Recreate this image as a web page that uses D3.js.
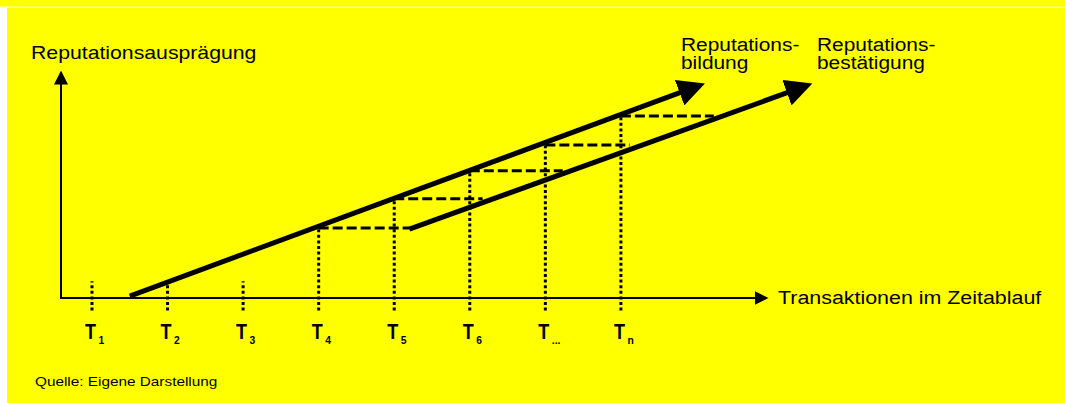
<!doctype html>
<meta charset="utf-8">
<script src="https://d3js.org/d3.v7.min.js"></script>
<style>
  body { margin: 0; background: #fff; }
  text { font-family: "Liberation Sans", Arial, sans-serif; fill: #000; }
</style>
<body>
<svg width="1065" height="403"></svg>
<script>
  // ticks on the time axis (T1 ... Tn)
  var ticks = [1, 2, 3, 4, 5, 6, 7, 8];
  var tickSubs = ["1", "2", "3", "4", "5", "6", "...", "n"];
  // top of the dotted marker at each tick, in reputation units
  var tickTops = [0.6, 0.5, 0.6, 2.5, 3.54, 4.54, 5.46, 6.5];
  var tickBottom = -0.45;

  // the two rising lines, [t, reputation]
  var bildung = [[1.5, 0.07], [8.79, 7.34]];
  var bestaetigung = [[5.2, 2.46], [10.21, 7.34]];

  // dashed carry-over lines: start tick, level, end t
  var carryStart = [4, 5, 6, 7, 8];
  var carryLevel = [2.5, 3.54, 4.54, 5.46, 6.5];
  var carryEnd = [5.2, 6.17, 7.23, 8.12, 9.23];

  var svg = d3.select("svg");
  var W = 1065, H = 403;

  // background: yellow with thin white frame on top / left
  svg.append("rect").attr("width", W).attr("height", H).attr("fill", "#ffff00");
  svg.append("rect").attr("x", 0).attr("y", 6.7).attr("width", W).attr("height", 1.3).attr("fill", "#fff");
  svg.append("rect").attr("x", 0).attr("y", 6.7).attr("width", 7).attr("height", H).attr("fill", "#fff");

  var x = d3.scaleLinear().domain([0.59, 9.96]).range([61, 769]);
  var y = d3.scaleLinear().domain([0, 8.14]).range([298, 70]);

  var defs = svg.append("defs");
  defs.append("marker")
    .attr("id", "small")
    .attr("markerUnits", "userSpaceOnUse")
    .attr("markerWidth", 14).attr("markerHeight", 14)
    .attr("viewBox", "0 0 14 14")
    .attr("refX", 0.5).attr("refY", 7)
    .attr("orient", "auto")
    .append("path").attr("d", "M0,0 L14,7 L0,14 Z").attr("fill", "#000");
  defs.append("marker")
    .attr("id", "big")
    .attr("markerUnits", "userSpaceOnUse")
    .attr("markerWidth", 27).attr("markerHeight", 27)
    .attr("viewBox", "0 0 27 27")
    .attr("refX", 1).attr("refY", 13.5)
    .attr("orient", "auto")
    .append("path").attr("d", "M0,0 L27,13.5 L0,27 Z").attr("fill", "#000");

  // --- axes (arrow tip sits at the end of the domain)
  var x0 = x.domain()[0], x1 = x.domain()[1];
  var yTop = y.domain()[1];
  svg.append("line")
    .attr("x1", x(x0)).attr("y1", y(0))
    .attr("x2", x(x1) - 14).attr("y2", y(0))
    .attr("stroke", "#000").attr("stroke-width", 2)
    .attr("marker-end", "url(#small)");
  svg.append("line")
    .attr("x1", x(x0)).attr("y1", y(0) + 1)
    .attr("x2", x(x0)).attr("y2", y(yTop) + 14)
    .attr("stroke", "#000").attr("stroke-width", 2)
    .attr("marker-end", "url(#small)");

  // --- dotted tick markers
  svg.selectAll(".tick")
    .data(ticks)
    .enter().append("line")
    .attr("class", "tick")
    .attr("x1", function (d) { return x(d); })
    .attr("x2", function (d) { return x(d); })
    .attr("y1", y(tickBottom))
    .attr("y2", function (d, i) { return y(tickTops[i]); })
    .attr("stroke", "#000").attr("stroke-width", 3)
    .attr("stroke-dasharray", "3,2.6");

  // --- dashed carry-over lines
  svg.selectAll(".carry")
    .data(carryStart)
    .enter().append("line")
    .attr("class", "carry")
    .attr("x1", function (d) { return x(d); })
    .attr("x2", function (d, i) { return x(carryEnd[i]); })
    .attr("y1", function (d, i) { return y(carryLevel[i]); })
    .attr("y2", function (d, i) { return y(carryLevel[i]); })
    .attr("stroke", "#000").attr("stroke-width", 3)
    .attr("stroke-dasharray", "10,4");

  // --- the two thick arrows
  var line = d3.line()
    .x(function (d) { return x(d[0]); })
    .y(function (d) { return y(d[1]); });
  [bildung, bestaetigung].forEach(function (pts) {
    svg.append("path")
      .attr("d", line(pts))
      .attr("fill", "none")
      .attr("stroke", "#000").attr("stroke-width", 5)
      .attr("marker-end", "url(#big)");
  });

  // --- text helper (the source lettering is a little wider than Arial)
  function label(str, tx, ty, size, sx, weight) {
    return svg.append("text")
      .attr("transform", "translate(" + tx + "," + ty + ") scale(" + sx + ",1)")
      .attr("font-size", size + "px")
      .attr("font-weight", weight || "normal")
      .text(str);
  }

  // tick labels T1 ... Tn
  ticks.forEach(function (t, i) {
    var lx = x(t) - 7;
    label("T", lx, 339, 22, 0.82, "bold");
    label(tickSubs[i], lx + 13.5, 344, 11.5, 0.9, "bold");
  });

  label("Reputationsausprägung", 31, 58.5, 18, 1.18);
  label("Transaktionen im Zeitablauf", 778, 304, 18, 1.19);
  label("Reputations-", 681, 50.5, 18, 1.16);
  label("bildung", 681, 69, 18, 1.16);
  label("Reputations-", 817, 50.5, 18, 1.16);
  label("bestätigung", 817, 69, 18, 1.16);
  label("Quelle: Eigene Darstellung", 35, 386, 13, 1.18);
</script>
</body>
